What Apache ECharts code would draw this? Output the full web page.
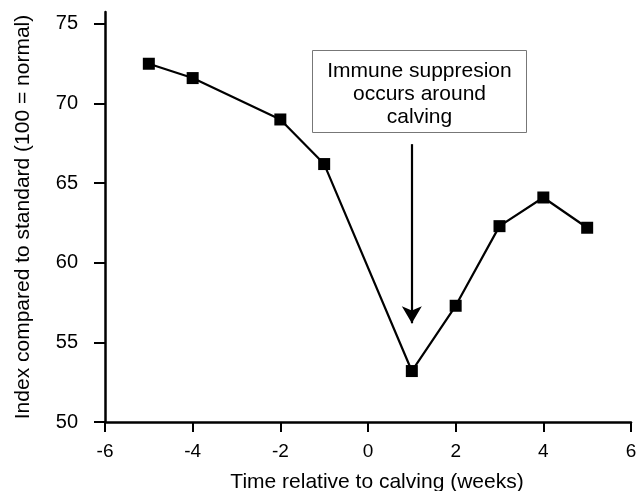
<!DOCTYPE html>
<html>
<head>
<meta charset="utf-8">
<script src="https://cdn.jsdelivr.net/npm/echarts@6/dist/echarts.min.js"></script>
<style>
  html, body { margin: 0; padding: 0; background: #fff; }
  #chart { width: 637px; height: 491px; }
</style>
</head>
<body>
<div id="chart"></div>
<script>
  // data
  var weeks = [-5, -4, -2, -1, 1, 2, 3, 4, 5];
  var indexValues = [72.5, 71.6, 69.0, 66.2, 53.2, 57.3, 62.3, 64.1, 62.2];
  var yTicks = [50, 55, 60, 65, 70, 75];
  var noteLines = ['Immune suppresion', 'occurs around', 'calving'];
  // arrow under the note, in data units (x, y from -> y to)
  var arrowX = 1;
  var arrowFrom = 67.45;
  var arrowTo = 56.2;

  var font = '"Liberation Sans", Arial, Helvetica, sans-serif';

  var points = weeks.map(function (w, i) { return [w, indexValues[i]]; });

  var myChart = echarts.init(document.getElementById('chart'));
  var option = {
    animation: false,
    backgroundColor: '#fff',
    grid: {
      left: 105,
      right: 6,
      top: 12,
      bottom: 69,
      containLabel: false,
      outerBoundsMode: 'none'
    },
    xAxis: {
      type: 'value',
      min: -6,
      max: 6,
      interval: 2,
      name: 'Time relative to calving (weeks)',
      nameLocation: 'middle',
      nameGap: 50,
      nameTextStyle: { fontFamily: font, fontSize: 21, color: '#000', padding: [0, 0, 0, 18] },
      axisLine: { show: true, onZero: false, lineStyle: { color: '#000', width: 2.5 } },
      axisTick: { show: true, length: 10, lineStyle: { color: '#000', width: 2 } },
      axisLabel: { margin: 20, fontFamily: font, fontSize: 19, color: '#000' },
      splitLine: { show: false }
    },
    yAxis: {
      type: 'value',
      min: 50,
      max: 75.75,
      name: 'Index compared to standard (100 = normal)',
      nameLocation: 'middle',
      nameRotate: 90,
      nameGap: 71,
      nameTextStyle: { fontFamily: font, fontSize: 21, color: '#000' },
      axisLine: { show: true, onZero: false, lineStyle: { color: '#000', width: 2.5 } },
      axisTick: { show: true, length: 11, customValues: yTicks, lineStyle: { color: '#000', width: 2 } },
      axisLabel: { margin: 27, customValues: yTicks, fontFamily: font, fontSize: 20, color: '#000' },
      splitLine: { show: false }
    },
    series: [{
      type: 'line',
      data: points,
      symbol: 'rect',
      symbolSize: 12,
      itemStyle: { color: '#000' },
      lineStyle: { color: '#000', width: 2.2 },
      markLine: {
        silent: true,
        symbol: ['none', 'arrow'],
        symbolSize: [15, 17],
        label: { show: false },
        lineStyle: { color: '#000', width: 2.2, type: 'solid' },
        data: [[
          { coord: [arrowX, arrowFrom] },
          { coord: [arrowX, arrowTo] }
        ]]
      }
    }],
    graphic: [{
      type: 'group',
      left: 312,
      top: 50,
      children: [{
        type: 'rect',
        shape: { x: 0, y: 0, width: 214, height: 82 },
        style: { fill: '#fff', stroke: '#777', lineWidth: 1 }
      }, {
        type: 'text',
        x: 107,
        y: 44,
        style: {
          text: noteLines.join('\n'),
          fontFamily: font,
          fontSize: 21,
          lineHeight: 23,
          fill: '#000',
          align: 'center',
          verticalAlign: 'middle'
        }
      }]
    }]
  };
  myChart.setOption(option);
</script>
</body>
</html>
